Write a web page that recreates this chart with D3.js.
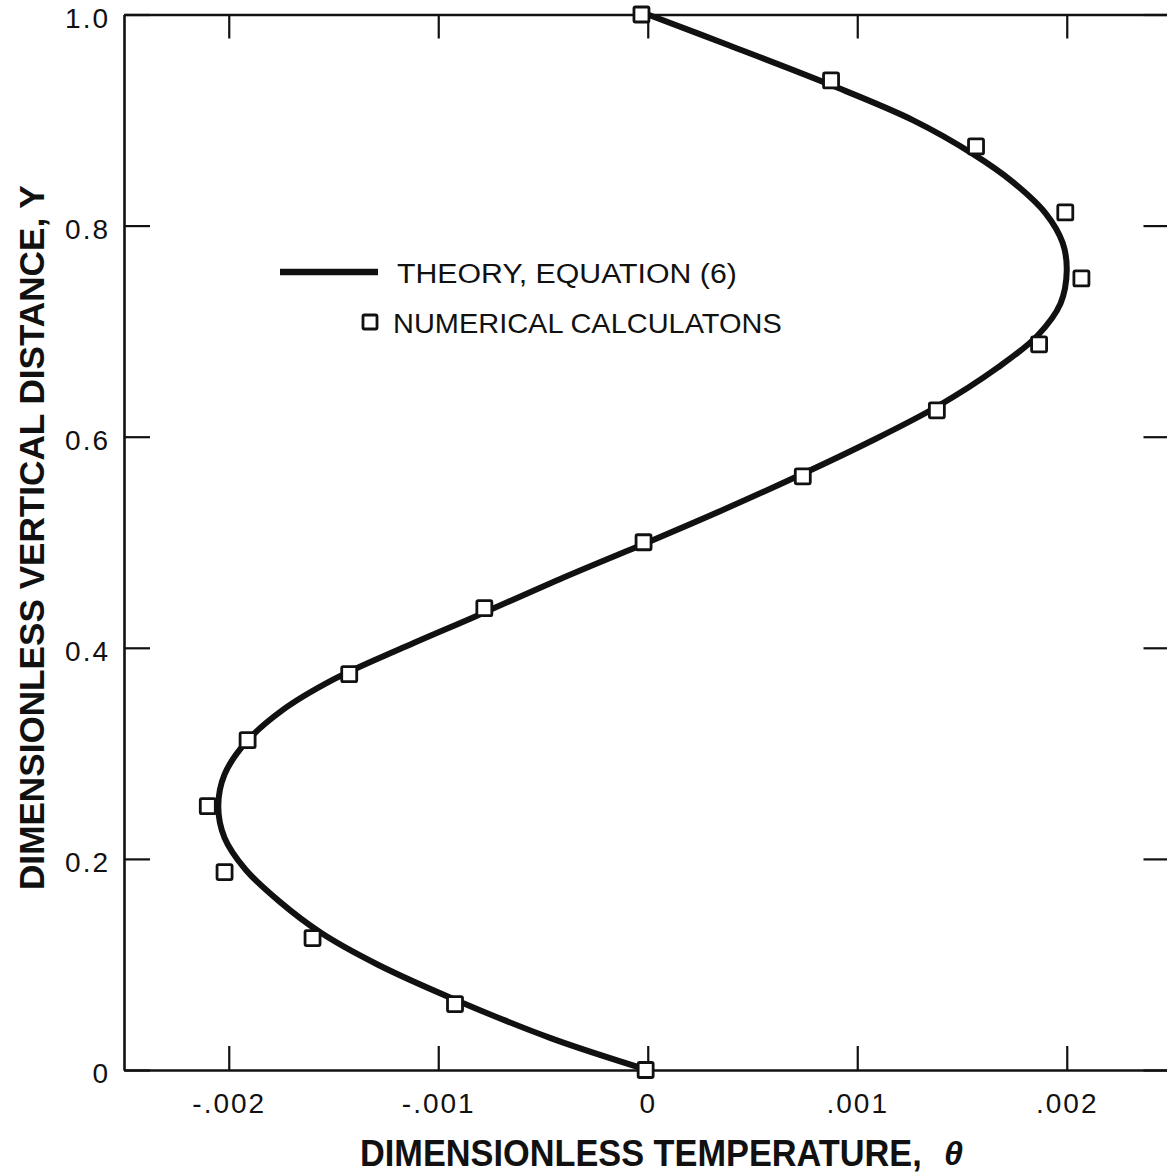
<!DOCTYPE html>
<html>
<head>
<meta charset="utf-8">
<script src="https://cdn.jsdelivr.net/npm/d3@7"></script>
<style>
  html, body { margin: 0; padding: 0; background: #fff; }
  svg { display: block; }
  text { font-family: "Liberation Sans", Arial, sans-serif; fill: #111; }
</style>
</head>
<body>
<svg id="chart" width="1167" height="1176"></svg>
<script>
// ---------- data ----------
const xTickValues = [-0.002, -0.001, 0, 0.001, 0.002];
const xTickLabels = ["-.002", "-.001", "0", ".001", ".002"];
const yTickValues = [0, 0.2, 0.4, 0.6, 0.8, 1.0];
const yTickLabels = ["0", "0.2", "0.4", "0.6", "0.8", "1.0"];

// numerical calculations (squares)
const numY = [0, 0.0625, 0.125, 0.1875, 0.25, 0.3125, 0.375, 0.4375, 0.5,
              0.5625, 0.625, 0.6875, 0.75, 0.8125, 0.875, 0.9375, 1.0];
const numTheta = [-0.00001, -0.00092, -0.00160, -0.00202, -0.00210, -0.00191, -0.001425, -0.00078, -0.00002,
                  0.00074, 0.00138, 0.001868, 0.00207, 0.001993, 0.001567, 0.000875, -0.00003];

// theory, equation (6)
const theoryY = [0, 0.03, 0.065, 0.10, 0.13, 0.16, 0.19, 0.22, 0.25, 0.28, 0.31,
                 0.34, 0.37, 0.40, 0.43, 0.465, 0.5, 0.5299, 0.564, 0.5943, 0.6284, 0.6654,
                 0.6957, 0.7261, 0.7573, 0.7839, 0.8114, 0.8417, 0.8682, 0.8995, 0.9327, 0.9706, 1.0];
const theoryTheta = [0, -0.00046, -0.00090, -0.00129, -0.00156, -0.00176, -0.00192, -0.00202, -0.00205, -0.00202, -0.00192,
                     -0.00175, -0.00150, -0.00117, -0.00082, -0.00042, 0, 0.00035, 0.00073, 0.00105, 0.00138, 0.00167,
                     0.00186, 0.00197, 0.00200, 0.00198, 0.00190, 0.00174, 0.00155, 0.00127, 0.00088, 0.00039, 0];

const xTitle = "DIMENSIONLESS TEMPERATURE,";
const xTitleSym = "θ";
const yTitle = "DIMENSIONLESS VERTICAL DISTANCE, Y";
const legendLabels = ["THEORY, EQUATION (6)", "NUMERICAL CALCULATONS"];

// ---------- layout ----------
const svg = d3.select("#chart");
const mLeft = 124, mRight = 1171.5, mTop = 14.5, mBottom = 1070;

const x = d3.scaleLinear().domain([-0.0025, 0.0025]).range([mLeft, mRight]);
const y = d3.scaleLinear().domain([0, 1]).range([mBottom, mTop]);

const ink = "#111";

function styleAxis(g) {
  g.select(".domain").attr("stroke", ink).attr("stroke-width", 2.6);
  g.selectAll(".tick line").attr("stroke", ink).attr("stroke-width", 2.2);
  g.selectAll(".tick text")
    .style("font-family", '"Liberation Sans", Arial, sans-serif')
    .style("font-size", "28px")
    .style("letter-spacing", "2px")
    .attr("fill", ink);
}

// place a text at (px,py) with rotation, horizontally scaled to a target width
function fitText(str, px, py, width, size, weight, rot) {
  const t = svg.append("text").attr("x", 0).attr("y", 0)
    .style("font-size", size + "px").style("font-weight", weight).text(str);
  const natural = t.node().getComputedTextLength();
  const s = width / natural;
  t.attr("transform", `translate(${px},${py}) rotate(${rot || 0}) scale(${s},1)`);
  return t;
}

// bottom axis
svg.append("g")
  .attr("transform", `translate(0,${mBottom})`)
  .call(d3.axisBottom(x).tickValues(xTickValues).tickSize(-24).tickSizeOuter(0).tickPadding(23)
        .tickFormat((d, i) => xTickLabels[i]))
  .call(styleAxis);

// top axis
svg.append("g")
  .attr("transform", `translate(0,${mTop})`)
  .call(d3.axisTop(x).tickValues(xTickValues).tickSize(-24).tickSizeOuter(0).tickFormat(""))
  .call(styleAxis);

// left axis
const gl = svg.append("g")
  .attr("transform", `translate(${mLeft},0)`)
  .call(d3.axisLeft(y).tickValues(yTickValues).tickSize(-26).tickSizeOuter(0).tickPadding(14)
        .tickFormat((d, i) => yTickLabels[i]))
  .call(styleAxis);
gl.selectAll(".tick text").attr("dy", "0.45em");

// right axis (mostly beyond the frame)
svg.append("g")
  .attr("transform", `translate(${mRight},0)`)
  .call(d3.axisRight(y).tickValues(yTickValues).tickSize(-28).tickSizeOuter(0).tickFormat(""))
  .call(styleAxis);

// theory curve
const theory = theoryY.map((v, i) => ({ t: theoryTheta[i], y: v }));
svg.append("path")
  .datum(theory)
  .attr("fill", "none")
  .attr("stroke", ink)
  .attr("stroke-width", 6)
  .attr("stroke-linecap", "round")
  .attr("d", d3.line().x(d => x(d.t)).y(d => y(d.y)).curve(d3.curveCatmullRom.alpha(0.5)));

// numerical squares
const sq = 15;
const nums = numY.map((v, i) => ({ t: numTheta[i], y: v }));
svg.append("g").selectAll("rect")
  .data(nums)
  .join("rect")
  .attr("x", d => x(d.t) - sq / 2)
  .attr("y", d => y(d.y) - sq / 2)
  .attr("width", sq).attr("height", sq)
  .attr("rx", 1.5)
  .attr("fill", "#fff")
  .attr("stroke", ink)
  .attr("stroke-width", 2.8);

// legend
svg.append("line").attr("x1", 280).attr("x2", 378).attr("y1", 272).attr("y2", 272)
  .attr("stroke", ink).attr("stroke-width", 6.5);
fitText(legendLabels[0], 397, 283, 340, 28, "normal", 0);
svg.append("rect").attr("x", 363).attr("y", 315).attr("width", 14).attr("height", 14)
  .attr("rx", 1.5).attr("fill", "#fff").attr("stroke", ink).attr("stroke-width", 2.8);
fitText(legendLabels[1], 393, 333, 389, 28, "normal", 0);

// x title
fitText(xTitle, 360, 1166, 562, 37, "bold", 0);
svg.append("text").attr("x", 944).attr("y", 1165)
  .style("font-size", "34px").style("font-weight", "bold").style("font-style", "italic")
  .text(xTitleSym);

// y title
fitText(yTitle, 44, 890, 705, 36, "bold", -90);
</script>
</body>
</html>
